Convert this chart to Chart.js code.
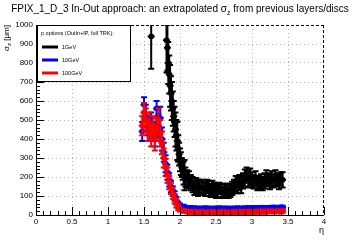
<!DOCTYPE html>
<html><head><meta charset="utf-8">
<script src="https://cdn.jsdelivr.net/npm/chart.js@4/dist/chart.umd.min.js"></script>
<style>html,body{margin:0;padding:0;background:#fff;}</style>
</head><body>
<canvas id="c" width="360" height="240" style="width:360px;height:240px;display:block"></canvas>
<script>
// ---- data ----
const titleMain = "FPIX_1_D_3 In-Out approach: an extrapolated σ";
const titleSub = "z";
const titleEnd = " from previous layers/discs";
const yTitle = "σ";
const yTitleSub = "z";
const yTitleEnd = " [μm]";
const xTitle = "η";
const legendHeader = "p options (OutIn+IP, full TRK):";
const seriesNames = ["1GeV", "10GeV", "100GeV"];
const seriesColors = ["#000000", "#0000ff", "#ff0000"];

const etaBlack = [1.6,1.8125,1.825,1.8375,1.85,1.8625,1.875,1.8875,1.9,1.9125,1.925,1.9375,1.95,1.9625,1.975,1.9875,2.0,2.0125,2.025,2.0375,2.05,2.0625,2.075,2.1,2.125,2.15,2.175,2.2,2.225,2.25,2.275,2.3,2.325,2.35,2.375,2.4,2.425,2.45,2.475,2.5,2.525,2.55,2.575,2.6,2.625,2.65,2.675,2.7,2.725,2.75,2.775,2.8,2.825,2.85,2.875,2.9,2.925,2.95,2.975,3.0,3.025,3.05,3.075,3.1,3.125,3.15,3.175,3.2,3.225,3.25,3.275,3.3,3.325,3.35,3.375,3.4,3.425];
const val1GeV = [940,920,880,800,740,680,640,600,560,520,490,450,420,390,350,320,290,270,250,235,220,210,200,190,185,170,160,150,155,140,150,145,140,135,150,140,130,145,135,125,130,140,125,120,130,135,125,130,140,150,165,155,170,160,180,195,210,190,200,185,175,190,165,170,175,165,180,195,185,175,190,180,195,185,175,190,185];
const err1GeV = [170,170,120,110,100,110,90,100,90,80,80,90,80,100,70,60,60,60,50,50,60,80,50,45,45,40,40,45,40,40,35,40,35,35,35,40,35,35,35,35,35,30,35,30,35,30,35,35,35,35,40,40,40,45,40,45,40,45,45,40,35,40,35,35,40,35,40,40,35,40,40,35,40,35,40,35,40];

const etaRB = [1.475,1.5,1.525,1.55,1.575,1.6,1.625,1.65,1.675,1.7,1.725,1.75,1.775,1.8,1.825,1.85,1.875,1.9,1.925,1.95,1.975,2.0,2.05,2.1,2.15,2.2,2.25,2.3,2.35,2.4,2.45,2.5,2.55,2.6,2.65,2.7,2.75,2.8,2.85,2.9,2.95,3.0,3.05,3.1,3.15,3.2,3.25,3.3,3.35,3.4,3.425];
const val10GeV = [440,580,520,470,450,480,440,420,560,470,510,400,330,270,225,185,150,125,100,75,55,50,45,40,38,37,36,36,37,36,35,36,37,36,36,35,36,37,36,37,38,38,39,38,40,39,40,41,40,41,41];
const err10GeV = [50,40,60,50,60,60,50,60,40,60,60,60,50,45,40,35,30,25,25,20,15,10,9,8,8,8,8,8,8,8,8,8,8,8,8,8,8,8,8,8,8,8,8,8,8,8,8,8,8,8,8];
const val100GeV = [470,540,500,440,480,420,470,400,450,500,430,380,300,250,210,170,140,110,85,60,40,28,22,18,16,15,14,15,13,14,15,13,14,15,14,13,15,14,16,15,16,17,16,18,17,18,19,18,19,18,20];
const err100GeV = [50,50,60,50,60,60,50,60,60,60,70,60,50,45,40,35,30,25,25,20,15,10,10,10,10,10,10,10,10,10,10,10,10,10,10,10,10,10,10,10,10,10,10,10,10,10,10,10,10,10,10];

const yTickStep = 100, yMinorStep = 20, xTickStep = 0.5, xMinorStep = 0.1;
const xMin = 0, xMax = 4, yMin = 0, yMax = 1000;

function pts(xs, ys, es){ return xs.map((x,i)=>({x:x, y:ys[i], e:es[i]})); }

const FONT = '"Liberation Sans", Arial, Helvetica, sans-serif';

const errorBars = {
  id:'errorBars',
  beforeDatasetDraw(chart, args){
    const ds = chart.data.datasets[args.index];
    const xs = chart.scales.x, ys = chart.scales.y, a = chart.chartArea, ctx = chart.ctx;
    ctx.save();
    ctx.beginPath(); ctx.rect(a.left, a.top, a.right-a.left, a.bottom-a.top); ctx.clip();
    ctx.strokeStyle = ds.borderColor; ctx.lineWidth = 2;
    ds.data.forEach(p=>{
      const x = xs.getPixelForValue(p.x);
      const y = ys.getPixelForValue(p.y);
      const y1 = ys.getPixelForValue(p.y - p.e), y2 = ys.getPixelForValue(p.y + p.e);
      ctx.beginPath(); ctx.moveTo(x,y1); ctx.lineTo(x,y2);
      ctx.moveTo(x-3,y1); ctx.lineTo(x+3,y1);
      ctx.moveTo(x-3,y2); ctx.lineTo(x+3,y2);
      ctx.moveTo(x-3.5,y); ctx.lineTo(x+3.5,y);
      ctx.stroke();
    });
    ctx.restore();
  }
};

const decor = {
  id:'decor',
  afterDraw(chart){
    const ctx = chart.ctx, a = chart.chartArea, xs = chart.scales.x, ys = chart.scales.y;
    ctx.save();
    // frame
    ctx.strokeStyle = '#000'; ctx.lineWidth = 1;
    ctx.setLineDash([3,2]);
    ctx.beginPath(); ctx.moveTo(a.left, a.top+0.5); ctx.lineTo(a.right, a.top+0.5);
    ctx.moveTo(a.right-0.5, a.top); ctx.lineTo(a.right-0.5, a.bottom); ctx.stroke();
    ctx.setLineDash([]);
    ctx.beginPath(); ctx.moveTo(a.left+0.5, a.top); ctx.lineTo(a.left+0.5, a.bottom+0.5);
    ctx.lineTo(a.right, a.bottom+0.5); ctx.stroke();
    // ticks
    ctx.beginPath();
    for (let v = yMin; v <= yMax + 1e-6; v += yMinorStep){
      const y = Math.round(ys.getPixelForValue(v)) + 0.5;
      const major = Math.abs(v/yTickStep - Math.round(v/yTickStep)) < 1e-6;
      ctx.moveTo(a.left, y); ctx.lineTo(a.left + (major ? 8 : 4), y);
    }
    for (let v = xMin; v <= xMax + 1e-6; v += xMinorStep){
      const x = Math.round(xs.getPixelForValue(v)) + 0.5;
      const major = Math.abs(v/xTickStep - Math.round(v/xTickStep)) < 1e-6;
      ctx.moveTo(x, a.bottom); ctx.lineTo(x, a.bottom - (major ? 8 : 4));
    }
    ctx.stroke();
    // title
    ctx.fillStyle = '#000';
    ctx.textBaseline = 'alphabetic';
    ctx.font = '10px ' + FONT;
    const w1 = ctx.measureText(titleMain).width, w3 = ctx.measureText(titleEnd).width;
    ctx.font = '7px ' + FONT;
    const w2 = ctx.measureText(titleSub).width;
    let tx = 180 - (w1+w2+w3)/2;
    ctx.font = '10px ' + FONT; ctx.fillText(titleMain, tx, 12); tx += w1;
    ctx.font = '7px ' + FONT; ctx.fillText(titleSub, tx, 15); tx += w2;
    ctx.font = '10px ' + FONT; ctx.fillText(titleEnd, tx, 12);
    // x title
    ctx.font = '9px ' + FONT; ctx.textAlign = 'right';
    ctx.fillText(xTitle, a.right, 233);
    // y title (rotated)
    ctx.save();
    ctx.translate(9, a.top);
    ctx.rotate(-Math.PI/2);
    ctx.textAlign = 'left';
    ctx.font = '8px ' + FONT;
    const yw1 = ctx.measureText(yTitle).width, yw3 = ctx.measureText(yTitleEnd).width;
    ctx.font = '6px ' + FONT;
    const yw2 = ctx.measureText(yTitleSub).width;
    let sx = -(yw1+yw2+yw3);
    ctx.font = '8px ' + FONT; ctx.fillText(yTitle, sx, 0); sx += yw1;
    ctx.font = '6px ' + FONT; ctx.fillText(yTitleSub, sx, 2); sx += yw2;
    ctx.font = '8px ' + FONT; ctx.fillText(yTitleEnd, sx, 0);
    ctx.restore();
    // legend
    const lx = 37.5, ly = 25.5, lw = 93, lh = 56;
    ctx.fillStyle = '#fff'; ctx.fillRect(lx, ly, lw, lh);
    ctx.strokeStyle = '#000'; ctx.lineWidth = 1; ctx.strokeRect(lx, ly, lw, lh);
    ctx.fillStyle = '#000'; ctx.textAlign = 'left'; ctx.textBaseline = 'middle';
    ctx.font = '5.5px ' + FONT;
    ctx.fillText(legendHeader, 41, 33);
    const ys0 = [47, 60, 73];
    seriesNames.forEach((n,i)=>{
      ctx.strokeStyle = seriesColors[i]; ctx.lineWidth = 3;
      ctx.beginPath(); ctx.moveTo(42, ys0[i]); ctx.lineTo(58, ys0[i]); ctx.stroke();
      ctx.fillStyle = '#000'; ctx.font = '5.5px ' + FONT;
      ctx.fillText(n, 62, ys0[i]+0.5);
    });
    ctx.restore();
  }
};

function mkds(label, data, color, order){
  return { label, data, borderColor: color, backgroundColor: color, pointStyle: 'rect',
    pointRadius: 2.8, pointBorderWidth: 1, showLine: false, order };
}

new Chart(document.getElementById('c'), {
  type: 'scatter',
  data: { datasets: [
    mkds(seriesNames[2], pts(etaRB, val100GeV, err100GeV), seriesColors[2], 0),
    mkds(seriesNames[1], pts(etaRB, val10GeV, err10GeV), seriesColors[1], 1),
    mkds(seriesNames[0], pts(etaBlack, val1GeV, err1GeV), seriesColors[0], 2)
  ]},
  options: {
    responsive: false, animation: false, devicePixelRatio: 1,
    layout: { padding: { left: 0, right: 36, top: 25, bottom: 0 } },
    plugins: { legend: { display: false }, tooltip: { enabled: false }, title: { display: false } },
    scales: {
      x: { type: 'linear', min: xMin, max: xMax,
        afterFit(s){ s.height = 25; },
        ticks: { stepSize: xTickStep, color: '#000', font: { size: 8, family: FONT }, padding: 2, maxRotation: 0,
          callback: v => String(v) },
        grid: { drawTicks: false, lineWidth: 1,
          color: c => (c.tick && (c.tick.value === xMin || c.tick.value === xMax)) ? 'rgba(0,0,0,0)' : '#b4b4b4' },
        border: { display: false, dash: [1,3] } },
      y: { type: 'linear', min: yMin, max: yMax,
        afterFit(s){ s.width = 36; },
        ticks: { stepSize: yTickStep, color: '#000', font: { size: 8, family: FONT }, padding: 3,
          callback: v => String(v) },
        grid: { drawTicks: false, lineWidth: 1,
          color: c => (c.tick && (c.tick.value === yMin || c.tick.value === yMax)) ? 'rgba(0,0,0,0)' : '#b4b4b4' },
        border: { display: false, dash: [1,3] } }
    }
  },
  plugins: [errorBars, decor]
});
</script>
</body></html>
